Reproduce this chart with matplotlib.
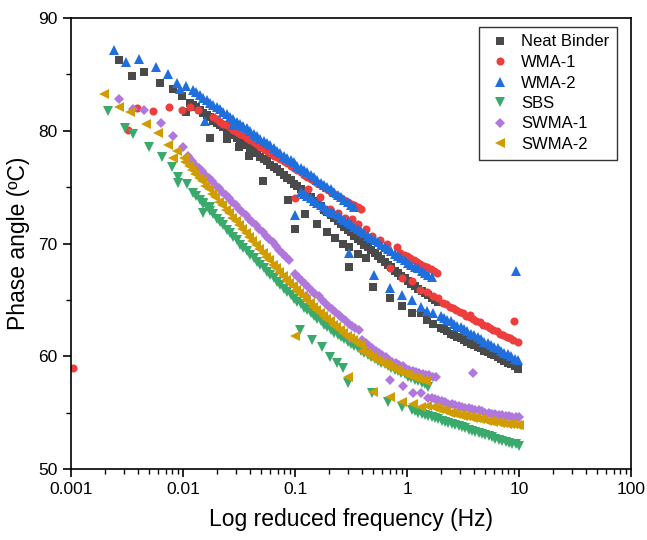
import matplotlib
matplotlib.use("Agg")
import matplotlib.pyplot as plt
import numpy as np
from matplotlib.ticker import LogLocator, NullFormatter, MultipleLocator

plt.rcParams['font.family'] = ['Liberation Sans', 'DejaVu Sans']

# ---- data: log10(reduced frequency, Hz) and phase angle (deg) ----
neat_logf = [-2.571, -2.455, -2.348, -2.205, -2.089, -2.009, -1.973,
             -1.759, -1.607, -1.500, -1.411, -1.286, -1.062,
             -1.000, -0.911, -0.804, -0.714, -0.643, -0.571, -0.518, -0.438, -0.366,
             -0.518, -0.304, -0.152, -0.045, 0.045, 0.125, 0.179, 0.232,
             -1.94, -1.91, -1.88, -1.85, -1.82, -1.79, -1.76, -1.73, -1.70, -1.67, -1.64, -1.61,
             -1.58, -1.55, -1.52, -1.49, -1.46, -1.43, -1.40, -1.37, -1.34, -1.31, -1.28, -1.25,
             -1.22, -1.19, -1.16, -1.13, -1.10, -1.07, -1.04, -1.01, -0.98, -0.95, -0.92, -0.89,
             -0.86, -0.83, -0.80, -0.77, -0.74, -0.71, -0.68, -0.65, -0.62, -0.59, -0.56, -0.53,
             -0.50, -0.47, -0.44, -0.41, -0.38, -0.35, -0.32, -0.29, -0.26, -0.23, -0.20, -0.17,
             -0.14, -0.11, -0.08, -0.05, -0.02, 0.01, 0.04, 0.07, 0.10, 0.13, 0.16, 0.19, 0.22, 0.25, 0.28,
             0.30, 0.33, 0.36, 0.39, 0.42, 0.45, 0.48, 0.51, 0.54, 0.57, 0.60, 0.63, 0.66, 0.69,
             0.72, 0.75, 0.78, 0.81, 0.84, 0.87, 0.90, 0.93, 0.96, 0.99]
neat_phase = [86.3, 84.9, 85.2, 84.2, 83.7, 83.1, 81.7,
              79.4, 79.3, 78.6, 77.8, 75.5, 73.9,
              71.3, 72.6, 71.7, 71.0, 70.5, 70.0, 69.7, 69.1, 68.7,
              67.9, 66.1, 65.2, 64.5, 63.8, 63.8, 63.2, 62.9,
              82.5, 82.3, 82.1, 81.8, 81.6, 81.4, 81.2, 80.9, 80.7, 80.5, 80.3, 80.0,
              79.8, 79.6, 79.4, 79.1, 78.9, 78.7, 78.4, 78.2, 78.0, 77.7, 77.5, 77.3,
              77.0, 76.8, 76.6, 76.3, 76.1, 75.8, 75.6, 75.3, 75.1, 74.8, 74.6, 74.3,
              74.1, 73.8, 73.6, 73.3, 73.0, 72.8, 72.5, 72.3, 72.0, 71.7, 71.5, 71.2,
              71.0, 70.7, 70.4, 70.2, 69.9, 69.7, 69.4, 69.2, 68.9, 68.6, 68.4, 68.1,
              67.9, 67.6, 67.4, 67.1, 66.9, 66.7, 66.4, 66.2, 66.0, 65.8, 65.6, 65.4, 65.2, 65.0, 64.8,
              62.5, 62.4, 62.2, 62.0, 61.9, 61.7, 61.6, 61.4, 61.3, 61.1, 61.0, 60.8, 60.7, 60.5,
              60.4, 60.2, 60.1, 59.9, 59.8, 59.6, 59.4, 59.3, 59.1, 58.9]

wma1_logf = [-2.98, -2.491, -2.411, -2.268, -2.125, -2.009, -1.938, -1.866,
             -1.73, -1.70, -1.67, -1.64, -1.61, -1.58, -1.55, -1.52, -1.49, -1.46, -1.43, -1.40,
             -1.37, -1.34, -1.31, -1.28, -1.25, -1.22, -1.19, -1.16, -1.13, -1.10, -1.07, -1.04,
             -1.01, -0.98, -0.95, -0.92, -0.89, -0.86, -0.83, -0.80, -0.77, -0.74, -0.71, -0.68,
             -0.65, -0.62, -0.59, -0.56, -0.53, -0.50, -0.47, -0.44, -0.41,
             -1.000, -0.884, -0.777, -0.688, -0.616, -0.554, -0.491, -0.438, -0.366, -0.313, -0.241, -0.179, -0.089,
             -0.06, -0.03, 0.00, 0.03, 0.06, 0.09, 0.12, 0.15, 0.18, 0.21, 0.24, 0.27,
             -0.152, -0.045, 0.045, 0.116, 0.179, 0.232, 0.277,
             0.32, 0.35, 0.38, 0.41, 0.44, 0.47, 0.50, 0.53, 0.56, 0.59, 0.62, 0.65, 0.68, 0.71,
             0.74, 0.77, 0.80, 0.83, 0.86, 0.89, 0.92, 0.95, 0.99,
             0.5625, 0.955]
wma1_phase = [59.0, 80.1, 82.0, 81.75, 82.1, 81.8, 82.1, 81.8,
              81.2, 81.0, 80.8, 80.6, 80.5, 80.3, 80.1, 79.9, 79.7, 79.6, 79.4, 79.2,
              79.0, 78.8, 78.6, 78.4, 78.2, 78.0, 77.8, 77.7, 77.5, 77.3, 77.1, 76.9,
              76.7, 76.5, 76.3, 76.1, 75.9, 75.7, 75.5, 75.4, 75.2, 75.0, 74.8, 74.6,
              74.4, 74.2, 74.0, 73.9, 73.7, 73.5, 73.4, 73.2, 73.1,
              74.0, 74.8, 74.1, 73.1, 72.7, 72.3, 72.2, 71.7, 71.3, 70.7, 70.3, 70.0, 69.7,
              69.2, 69.0, 68.9, 68.7, 68.5, 68.4, 68.2, 68.0, 67.9, 67.7, 67.6, 67.4,
              67.8, 66.9, 66.7, 65.9, 65.7, 65.3, 65.2,
              64.7, 64.6, 64.4, 64.3, 64.1, 63.9, 63.8, 63.6, 63.5, 63.3, 63.1, 63.0, 62.8, 62.7,
              62.5, 62.3, 62.2, 62.0, 61.9, 61.7, 61.6, 61.4, 61.3,
              63.7, 63.1]

wma2_logf = [-2.616, -2.509, -2.393, -2.241, -2.134, -2.054, -1.973, -2.027,
             -1.91, -1.88, -1.85, -1.82, -1.79, -1.76, -1.73, -1.70, -1.67, -1.64, -1.61, -1.58,
             -1.55, -1.52, -1.49, -1.46, -1.43, -1.40, -1.37, -1.34, -1.31, -1.28, -1.25, -1.22,
             -1.19, -1.16, -1.13, -1.10, -1.07, -1.04, -1.01, -0.98, -0.95, -0.92, -0.89, -0.86,
             -0.83, -0.80, -0.77, -0.74, -0.71, -0.68, -0.65, -0.62, -0.59, -0.56, -0.53, -0.50, -0.47,
             -1.804, -1.554, -1.000,
             -0.95, -0.92, -0.89, -0.86, -0.83, -0.80, -0.77, -0.74, -0.71, -0.68, -0.65, -0.62,
             -0.59, -0.56, -0.53, -0.50, -0.47, -0.44, -0.41, -0.38, -0.35, -0.32, -0.29, -0.26,
             -0.23, -0.20, -0.17, -0.14, -0.11, -0.08, -0.05, -0.02, 0.01, 0.04, 0.07, 0.10,
             0.13, 0.16, 0.19, 0.22,
             -0.518, -0.295, -0.152, -0.045, 0.045, 0.125, 0.179, 0.232,
             0.30, 0.33, 0.36, 0.39, 0.42, 0.45, 0.48, 0.51, 0.54, 0.57, 0.60, 0.63, 0.66, 0.69,
             0.72, 0.75, 0.78, 0.81, 0.84, 0.87, 0.90, 0.93, 0.96, 0.99,
             0.973]
wma2_phase = [87.2, 86.1, 86.4, 85.65, 85.0, 84.2, 84.0, 83.7,
              83.6, 83.4, 83.2, 82.9, 82.7, 82.5, 82.3, 82.1, 81.9, 81.7, 81.5, 81.2,
              81.0, 80.8, 80.6, 80.4, 80.2, 80.0, 79.7, 79.5, 79.3, 79.1, 78.9, 78.7,
              78.5, 78.2, 78.0, 77.8, 77.6, 77.4, 77.2, 76.9, 76.7, 76.5, 76.3, 76.1,
              75.9, 75.6, 75.4, 75.2, 75.0, 74.8, 74.6, 74.3, 74.1, 73.9, 73.7, 73.4, 73.2,
              80.9, 80.5, 72.5,
              74.6, 74.4, 74.2, 74.0, 73.8, 73.6, 73.4, 73.2, 73.0, 72.8, 72.7, 72.5,
              72.3, 72.1, 71.9, 71.7, 71.5, 71.3, 71.1, 70.9, 70.7, 70.5, 70.3, 70.1,
              69.9, 69.7, 69.5, 69.3, 69.1, 68.9, 68.7, 68.5, 68.3, 68.1, 67.9, 67.8,
              67.6, 67.4, 67.2, 67.0,
              69.2, 67.2, 66.05, 65.4, 65.0, 64.4, 64.0, 63.8,
              63.6, 63.4, 63.2, 63.1, 62.9, 62.7, 62.6, 62.4, 62.2, 62.0, 61.9, 61.7, 61.5, 61.3,
              61.2, 61.0, 60.8, 60.7, 60.5, 60.3, 60.2, 60.0, 59.8, 59.7,
              67.6]

sbs_logf = [-2.67, -2.518, -2.446, -2.304, -2.188, -2.098, -2.045, -2.045, -1.964, -1.911, -1.821, -1.821, -1.759,
            -1.88, -1.85, -1.82, -1.79, -1.76, -1.73, -1.70, -1.67, -1.64, -1.61, -1.58, -1.55,
            -1.52, -1.49, -1.46, -1.43, -1.40, -1.37, -1.34, -1.31, -1.28, -1.25, -1.22, -1.19,
            -1.16, -1.13, -1.10, -1.07, -1.04, -1.01, -0.98, -0.95, -0.92, -0.89, -0.86, -0.83,
            -0.80, -0.77, -0.74, -0.71, -0.68, -0.65, -0.62, -0.59, -0.56, -0.53, -0.50, -0.47,
            -0.44, -0.41, -0.38, -0.35, -0.32, -0.29, -0.26, -0.23, -0.20, -0.17, -0.14, -0.11,
            -0.08, -0.05, -0.02, 0.01, 0.04, 0.07, 0.10, 0.13, 0.16, 0.19,
            -0.955, -0.848, -0.759, -0.688, -0.625, -0.571, -0.527, -0.313, -0.170, -0.045, 0.045,
            0.07, 0.10, 0.13, 0.16, 0.19, 0.22, 0.25, 0.28, 0.31, 0.34, 0.37, 0.40, 0.43, 0.46,
            0.49, 0.52, 0.55, 0.58, 0.61, 0.64, 0.67, 0.70, 0.73, 0.76, 0.79, 0.82, 0.85, 0.88,
            0.91, 0.94, 0.97, 1.00]
sbs_phase = [81.75, 80.2, 79.7, 78.6, 77.7, 76.8, 75.9, 75.4, 75.3, 74.5, 73.6, 72.7, 73.2,
             74.2, 73.9, 73.5, 73.2, 72.9, 72.6, 72.2, 71.9, 71.6, 71.2, 70.9, 70.6,
             70.3, 69.9, 69.6, 69.3, 69.0, 68.7, 68.4, 68.1, 67.8, 67.5, 67.2, 66.9,
             66.6, 66.3, 66.0, 65.7, 65.4, 65.1, 64.8, 64.6, 64.3, 64.1, 63.8, 63.6,
             63.3, 63.1, 62.8, 62.6, 62.3, 62.1, 61.9, 61.7, 61.5, 61.3, 61.1, 60.9,
             60.7, 60.5, 60.3, 60.1, 59.9, 59.8, 59.6, 59.4, 59.3, 59.1, 59.0, 58.8,
             58.7, 58.5, 58.4, 58.2, 58.1, 57.9, 57.8, 57.6, 57.5, 57.3,
             62.3, 61.4, 60.8, 59.9, 59.4, 59.0, 57.6, 56.7, 55.9, 55.5, 55.2,
             55.1, 55.0, 54.9, 54.8, 54.7, 54.6, 54.5, 54.4, 54.3, 54.2, 54.1, 54.0, 53.9, 53.8,
             53.7, 53.6, 53.5, 53.4, 53.3, 53.2, 53.1, 53.0, 52.9, 52.8, 52.7, 52.6, 52.5, 52.4,
             52.3, 52.2, 52.2, 52.0]

swma1_logf = [-2.571, -2.446, -2.348, -2.196, -2.089, -2.000, -1.955,
              -1.95, -1.92, -1.89, -1.86, -1.83, -1.80, -1.77, -1.74, -1.71, -1.68, -1.65, -1.62,
              -1.59, -1.56, -1.53, -1.50, -1.47, -1.44, -1.41, -1.38, -1.35, -1.32, -1.29, -1.26,
              -1.23, -1.20, -1.17, -1.14, -1.11, -1.08, -1.05,
              -1.00, -0.97, -0.94, -0.91, -0.88, -0.85, -0.82, -0.79, -0.76, -0.73, -0.70, -0.67,
              -0.64, -0.61, -0.58, -0.55, -0.52, -0.49, -0.46, -0.43,
              -0.40, -0.37, -0.34, -0.31, -0.28, -0.25, -0.22, -0.19, -0.16, -0.13, -0.10, -0.07,
              -0.04, -0.01, 0.02, 0.05, 0.08, 0.11, 0.14, 0.17, 0.20, 0.23, 0.26,
              0.22, 0.25, 0.28, 0.31, 0.34, 0.37, 0.40, 0.43, 0.46, 0.49,
              0.52, 0.55, 0.58, 0.61, 0.64, 0.67, 0.70, 0.73, 0.76, 0.79, 0.82, 0.85, 0.88, 0.91,
              0.94, 0.97, 1.00,
              -0.902, -0.509, -0.152, -0.036, 0.054, 0.125, 0.188,
              0.589]
swma1_phase = [82.8, 81.9, 81.8, 80.7, 79.5, 78.6, 77.8,
               77.6, 77.3, 77.0, 76.7, 76.4, 76.1, 75.8, 75.5, 75.2, 74.9, 74.6, 74.3,
               74.0, 73.7, 73.4, 73.1, 72.8, 72.5, 72.2, 71.9, 71.6, 71.3, 71.0, 70.7,
               70.4, 70.1, 69.8, 69.4, 69.1, 68.8, 68.5,
               67.3, 67.0, 66.7, 66.4, 66.1, 65.8, 65.5, 65.3, 65.0, 64.7, 64.4, 64.2,
               63.9, 63.7, 63.4, 63.2, 62.9, 62.7, 62.5, 62.3,
               61.4, 61.2, 60.9, 60.7, 60.5, 60.3, 60.1, 59.9, 59.7, 59.5, 59.4, 59.2,
               59.1, 58.9, 58.8, 58.7, 58.6, 58.5, 58.4, 58.3, 58.3, 58.2, 58.2,
               56.3, 56.2, 56.1, 56.0, 55.9, 55.8, 55.8, 55.7, 55.6, 55.5,
               55.4, 55.4, 55.3, 55.2, 55.2, 55.1, 55.0, 55.0, 54.9, 54.9, 54.8, 54.8, 54.7, 54.7,
               54.6, 54.6, 54.6,
               65.3, 61.6, 57.9, 57.4, 56.7, 56.7, 56.3,
               58.5]

swma2_logf = [-2.705, -2.571, -2.473, -2.330, -2.223, -2.134, -2.054, -2.090, -1.990,
              -1.98, -1.95, -1.92, -1.89, -1.86, -1.83, -1.80, -1.77, -1.74, -1.71, -1.68, -1.65,
              -1.62, -1.59, -1.56, -1.53, -1.50, -1.47, -1.44, -1.41, -1.38, -1.35, -1.32, -1.29,
              -1.26, -1.23, -1.20, -1.17, -1.14, -1.11, -1.08, -1.05, -1.02, -0.99, -0.96, -0.93,
              -0.90, -0.87, -0.84, -0.81, -0.78, -0.75, -0.72, -0.69, -0.66, -0.63, -0.60, -0.57,
              -0.54, -0.51, -0.48, -0.45, -0.42,
              -0.40, -0.37, -0.34, -0.31, -0.28, -0.25, -0.22, -0.19, -0.16, -0.13, -0.10, -0.07,
              -0.04, -0.01, 0.02, 0.05, 0.08, 0.11, 0.14, 0.17,
              0.23, 0.26, 0.29, 0.32, 0.35, 0.38, 0.41, 0.44, 0.47, 0.50, 0.53, 0.56, 0.59,
              0.62, 0.65, 0.68, 0.71, 0.74, 0.77, 0.80, 0.83, 0.86, 0.89, 0.92, 0.95, 0.98, 1.00,
              -1.000, -0.527, -0.304, -0.152, -0.045, 0.054, 0.125, 0.179]
swma2_phase = [83.3, 82.1, 81.7, 80.6, 79.8, 78.7, 78.2, 77.6, 77.6,
               77.2, 76.9, 76.5, 76.2, 75.8, 75.5, 75.1, 74.8, 74.4, 74.1, 73.7, 73.4,
               73.0, 72.7, 72.3, 72.0, 71.6, 71.3, 70.9, 70.6, 70.2, 69.9, 69.5, 69.2,
               68.8, 68.5, 68.1, 67.8, 67.5, 67.1, 66.8, 66.5, 66.2, 65.9, 65.6, 65.3,
               65.0, 64.7, 64.4, 64.1, 63.8, 63.6, 63.3, 63.1, 62.8, 62.6, 62.3, 62.1,
               61.8, 61.6, 61.4, 61.2, 61.0,
               60.5, 60.3, 60.1, 59.9, 59.7, 59.6, 59.4, 59.3, 59.1, 59.0, 58.8, 58.7,
               58.5, 58.4, 58.3, 58.2, 58.1, 58.0, 57.9, 57.8,
               55.5, 55.4, 55.3, 55.2, 55.1, 55.0, 55.0, 54.9, 54.8, 54.7, 54.7, 54.6, 54.5,
               54.5, 54.4, 54.4, 54.3, 54.3, 54.2, 54.2, 54.1, 54.1, 54.0, 54.0, 54.0, 53.9, 53.9,
               61.8, 58.2, 56.8, 56.4, 55.9, 55.8, 55.5, 55.6]

series = [
    ("Neat Binder", neat_logf, neat_phase, "s", "#4a4a4a", 5.2),
    ("WMA-1", wma1_logf, wma1_phase, "o", "#ee3d3d", 5.8),
    ("WMA-2", wma2_logf, wma2_phase, "^", "#1f6fdc", 6.6),
    ("SBS", sbs_logf, sbs_phase, "v", "#3aaa6c", 6.6),
    ("SWMA-1", swma1_logf, swma1_phase, "D", "#b077dc", 5.2),
    ("SWMA-2", swma2_logf, swma2_phase, "<", "#d09c00", 6.6),
]

fig = plt.figure(figsize=(6.47, 5.40), dpi=100)
ax = fig.add_axes([71/647, 1-469/540, 560/647, 451/540])

for name, lf, ph, mk, col, ms in series:
    f = 10 ** np.array(lf)
    ax.plot(f, ph, linestyle="none", marker=mk, color=col, markersize=ms,
            markeredgewidth=0, label=name)

ax.set_xscale("log")
ax.set_xlim(0.001, 100)
ax.set_ylim(50, 90)
ax.set_xticks([0.001, 0.01, 0.1, 1, 10, 100])
ax.set_xticklabels(["0.001", "0.01", "0.1", "1", "10", "100"])
ax.xaxis.set_minor_locator(LogLocator(base=10, subs=np.arange(2, 10)))
ax.xaxis.set_minor_formatter(NullFormatter())
ax.yaxis.set_major_locator(MultipleLocator(10))
ax.yaxis.set_minor_locator(MultipleLocator(5))
ax.tick_params(which="major", direction="out", length=6, width=1.2, labelsize=12.5,
               top=False, right=False)
ax.tick_params(which="minor", direction="out", length=3.5, width=1.0, top=False, right=False)
for s in ax.spines.values():
    s.set_linewidth(1.2)

ax.set_xlabel("Log reduced frequency (Hz)", fontsize=16.5, labelpad=8)
ax.set_ylabel("Phase angle (ºC)", fontsize=16.5, labelpad=6)

leg = ax.legend(loc="upper right", bbox_to_anchor=(1 - 14/560, 1 - 9/451), borderaxespad=0,
                fontsize=12, frameon=True, fancybox=False, edgecolor="black",
                handletextpad=0.5, borderpad=0.45, labelspacing=0.33, handlelength=1.6)
leg.get_frame().set_linewidth(1.0)

fig.savefig("out.png", dpi=100)
